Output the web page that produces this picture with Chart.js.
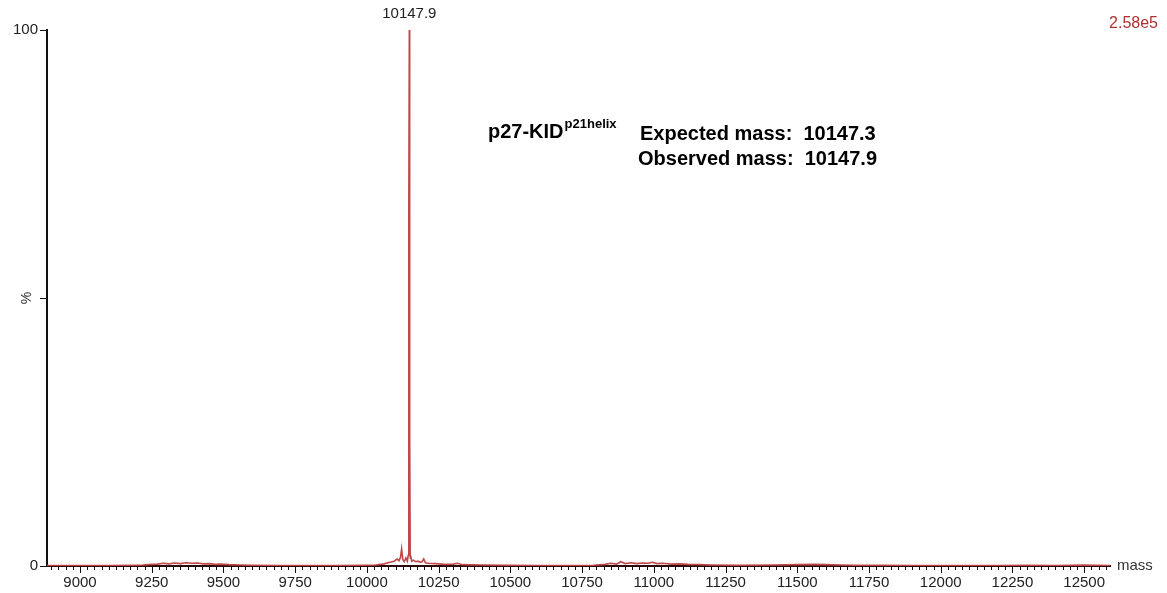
<!DOCTYPE html>
<html>
<head>
<meta charset="utf-8">
<script src="https://cdn.jsdelivr.net/npm/chart.js@4.4.1/dist/chart.umd.min.js"></script>
<style>
html,body{margin:0;padding:0;background:#fff;}
#wrap{width:1167px;height:593px;position:relative;}
</style>
</head>
<body>
<div id="wrap"><canvas id="c" width="1167" height="593"></canvas></div>
<script>
// ---- data ----
const masses = [8885, 8950, 9000, 9100, 9180, 9220, 9250, 9270, 9290, 9310, 9330, 9350, 9370, 9390, 9410, 9430, 9450, 9470, 9490, 9520, 9560, 9600, 9700, 9800, 9900, 9980, 10030, 10060, 10080, 10095, 10105, 10112, 10117, 10121, 10125, 10130, 10136, 10141, 10144, 10146, 10147.9, 10149, 10151, 10153, 10156, 10162, 10170, 10178, 10186, 10192, 10198, 10204, 10215, 10240, 10270, 10300, 10316, 10332, 10400, 10500, 10600, 10700, 10790, 10830, 10850, 10870, 10885, 10900, 10920, 10940, 10960, 10980, 10995, 11010, 11030, 11060, 11090, 11120, 11160, 11200, 11300, 11420, 11500, 11560, 11600, 11650, 11700, 11800, 11900, 12000, 12100, 12200, 12300, 12400, 12450, 12500, 12590];
const intensity = [0.1, 0.1, 0.1, 0.1, 0.15, 0.2, 0.3, 0.35, 0.5, 0.4, 0.55, 0.45, 0.6, 0.5, 0.55, 0.4, 0.45, 0.3, 0.35, 0.25, 0.2, 0.15, 0.1, 0.1, 0.1, 0.15, 0.2, 0.4, 0.7, 0.9, 1.3, 1.0, 1.6, 3.2, 1.2, 0.8, 1.5, 0.9, 2.0, 65, 100, 25, 1.5, 1.9, 0.9, 1.1, 0.8, 0.9, 0.7, 0.8, 1.3, 0.6, 0.5, 0.45, 0.3, 0.35, 0.5, 0.25, 0.2, 0.15, 0.1, 0.1, 0.15, 0.3, 0.5, 0.35, 0.8, 0.45, 0.6, 0.45, 0.55, 0.5, 0.7, 0.45, 0.5, 0.35, 0.4, 0.3, 0.25, 0.2, 0.15, 0.2, 0.25, 0.3, 0.25, 0.2, 0.15, 0.15, 0.1, 0.1, 0.1, 0.1, 0.15, 0.1, 0.15, 0.2, 0.1];
const xTickLabels = [9000, 9250, 9500, 9750, 10000, 10250, 10500, 10750, 11000, 11250, 11500, 11750, 12000, 12250, 12500];
const xMinorStep = 25;
const yTickValues = [0, 50, 100];
const yTickLabels = ['0', '%', '100'];
const peakLabel = '10147.9';
const peakMass = 10147.9;
const scaleLabel = '2.58e5';
const xUnit = 'mass';

const FONT = '"Liberation Sans", Arial, sans-serif';

const overlay = {
  id: 'overlay',
  afterDraw(chart) {
    const ctx = chart.ctx;
    const xs = chart.scales.x, ys = chart.scales.y;
    const a = chart.chartArea;
    ctx.save();
    // x ticks
    ctx.strokeStyle = '#111';
    ctx.lineWidth = 1;
    for (let v = 8900; v <= xs.max; v += xMinorStep) {
      const px = Math.round(xs.getPixelForValue(v)) + 0.5;
      const major = xTickLabels.includes(v);
      ctx.beginPath();
      ctx.moveTo(px, a.bottom);
      ctx.lineTo(px, a.bottom + (major ? 7 : 4));
      ctx.stroke();
    }
    // y ticks
    yTickValues.forEach(v => {
      const py = Math.round(ys.getPixelForValue(v)) + 0.5;
      ctx.beginPath();
      ctx.moveTo(a.left - 7, py);
      ctx.lineTo(a.left, py);
      ctx.stroke();
    });
    // rotated %
    ctx.fillStyle = '#333';
    ctx.font = '14px ' + FONT;
    ctx.textAlign = 'center';
    ctx.textBaseline = 'middle';
    ctx.save();
    ctx.translate(27, ys.getPixelForValue(50));
    ctx.rotate(-Math.PI / 2);
    ctx.fillText(yTickLabels[1], 0, 0);
    ctx.restore();
    // mass unit
    ctx.textAlign = 'left';
    ctx.font = '15px ' + FONT;
    ctx.fillText(xUnit, a.right + 7, a.bottom);
    // peak label
    ctx.textAlign = 'center';
    ctx.fillStyle = '#222';
    ctx.fillText(peakLabel, xs.getPixelForValue(peakMass), 14);
    // scale factor
    ctx.textAlign = 'right';
    ctx.fillStyle = '#b03030';
    ctx.font = '16px ' + FONT;
    ctx.fillText(scaleLabel, 1158, 24);
    // annotation
    ctx.fillStyle = '#000';
    ctx.textAlign = 'left';
    ctx.textBaseline = 'alphabetic';
    ctx.font = 'bold 20px ' + FONT;
    ctx.fillText('p27-KID', 488, 138);
    const w = ctx.measureText('p27-KID').width;
    ctx.font = 'bold 13px ' + FONT;
    ctx.fillText('p21helix', 488 + w + 1, 128);
    ctx.font = 'bold 20px ' + FONT;
    ctx.fillText('Expected mass:  10147.3', 640, 140);
    ctx.fillText('Observed mass:  10147.9', 638, 165);
    ctx.restore();
  }
};

new Chart(document.getElementById('c'), {
  type: 'line',
  data: {
    datasets: [{
      data: masses.map((m, i) => ({x: m, y: intensity[i]})),
      borderColor: '#c04848',
      borderWidth: 1.6,
      pointRadius: 0,
      tension: 0,
      fill: false
    }]
  },
  options: {
    responsive: false,
    animation: false,
    events: [],
    layout: {padding: {top: 30, right: 57, left: 0, bottom: 0}},
    plugins: {legend: {display: false}, tooltip: {enabled: false}},
    scales: {
      x: {
        type: 'linear',
        min: 8885,
        max: 12590,
        afterBuildTicks(s) { s.ticks = xTickLabels.map(v => ({value: v})); },
        afterFit(s) { s.height = 27; },
        grid: {display: false, drawTicks: false},
        border: {display: true, color: '#2a0a0a', width: 2},
        ticks: {
          autoSkip: false, maxRotation: 0, padding: 8,
          color: '#222', font: {family: FONT, size: 15},
          callback: v => String(v)
        }
      },
      y: {
        type: 'linear',
        min: 0,
        max: 100,
        afterBuildTicks(s) { s.ticks = yTickValues.map(v => ({value: v})); },
        afterFit(s) { s.width = 47; },
        grid: {display: false, drawTicks: false},
        border: {display: true, color: '#111', width: 2},
        ticks: {
          padding: 9, color: '#222', font: {family: FONT, size: 15},
          callback: (v) => { const i = yTickValues.indexOf(v); return i === 1 ? '' : yTickLabels[i]; }
        }
      }
    }
  },
  plugins: [overlay]
});
</script>
</body>
</html>
